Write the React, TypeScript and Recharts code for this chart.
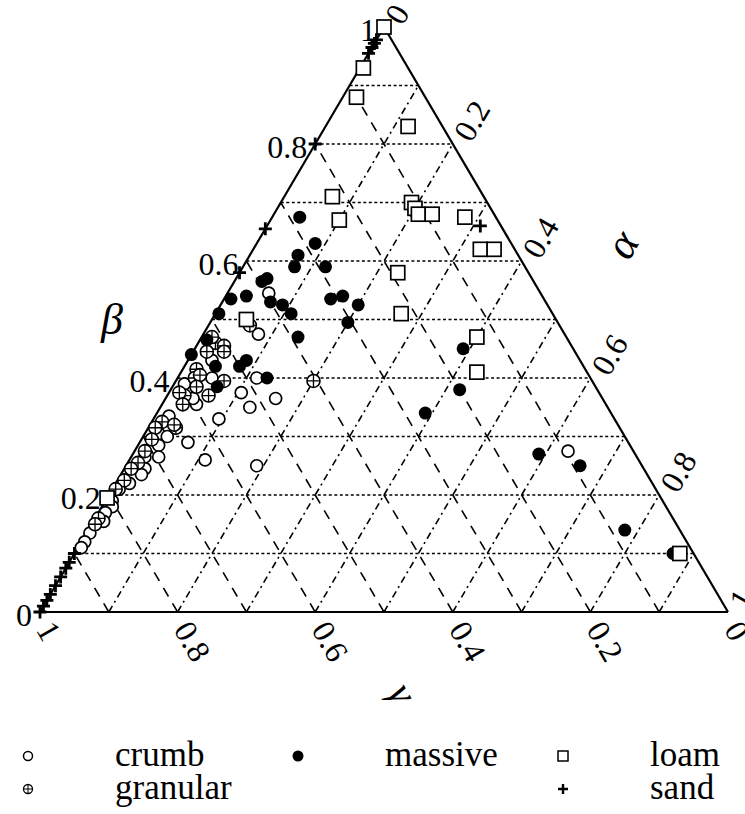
import React from "react";
import { ScatterChart, Scatter, XAxis, YAxis, ReferenceLine } from "recharts";

type Pair = [number, number];

// samples as [alpha, beta]; gamma = 1 - alpha - beta
const crumb: Pair[] = [
  [0.06, 0.545], [0.08, 0.475], [0.115, 0.4], [0.16, 0.365], [0.13, 0.35], [0.105, 0.375],
  [0.095, 0.33], [0.19, 0.25], [0.11, 0.26], [0.07, 0.29], [0.63, 0.275], [0.035, 0.43],
  [0.05, 0.4], [0.015, 0.39], [0.05, 0.355], [0.02, 0.335], [0.02, 0.305], [0.035, 0.3],
  [0.03, 0.285], [0.04, 0.265], [0.02, 0.265], [0.03, 0.245], [0.03, 0.235], [0.02, 0.22],
  [0.01, 0.21], [0.01, 0.19], [0.015, 0.18], [0.01, 0.17], [0.015, 0.155], [0.005, 0.135],
  [0.005, 0.12], [0.005, 0.11], [0.04, 0.365],
];

const granular: Pair[] = [
  [0.06, 0.49], [0.2, 0.395], [0.025, 0.46], [0.04, 0.455], [0.02, 0.445], [0.02, 0.415],
  [0.025, 0.4], [0.03, 0.405], [0.07, 0.395], [0.025, 0.37], [0.06, 0.37], [0.015, 0.375],
  [0.03, 0.355], [0.035, 0.385], [0.015, 0.325], [0.04, 0.315], [0.01, 0.315], [0.015, 0.295],
  [0.015, 0.275], [0.015, 0.255], [0.01, 0.245], [0.01, 0.225], [0.005, 0.21], [0.005, 0.16],
  [0.005, 0.15], [0.015, 0.47], [0.035, 0.32], [0.045, 0.445],
];

const massive: Pair[] = [
  [0.04, 0.675], [0.085, 0.63], [0.07, 0.61], [0.075, 0.59], [0.12, 0.59], [0.045, 0.57],
  [0.04, 0.565], [0.07, 0.53], [0.09, 0.525], [0.11, 0.51], [0.155, 0.535], [0.17, 0.54],
  [0.2, 0.525], [0.2, 0.495], [0.14, 0.47], [0.03, 0.54], [0.01, 0.535], [0.005, 0.51],
  [0.0, 0.44], [0.085, 0.43], [0.08, 0.42], [0.045, 0.42], [0.13, 0.4], [0.065, 0.385],
  [0.01, 0.465], [0.39, 0.45], [0.42, 0.38], [0.39, 0.34], [0.59, 0.27], [0.66, 0.25],
  [0.78, 0.14], [0.87, 0.1],
];

const loam: Pair[] = [
  [0.0, 1.0], [0.005, 0.93], [0.02, 0.88], [0.12, 0.83], [0.07, 0.71], [0.1, 0.67],
  [0.19, 0.7], [0.2, 0.69], [0.21, 0.68], [0.23, 0.68], [0.28, 0.675], [0.33, 0.62],
  [0.35, 0.62], [0.23, 0.58], [0.27, 0.51], [0.4, 0.47], [0.43, 0.41], [0.88, 0.1],
  [0.05, 0.5], [0.0, 0.195],
];

const sand: Pair[] = [
  [0, 0], [0, 0.01], [0, 0.02], [0, 0.03], [0, 0.045], [0, 0.06], [0, 0.075], [0, 0.085],
  [0, 0.1], [0, 0.58], [0, 0.655], [0, 0.8], [0, 0.955], [0, 0.965], [0, 0.972], [0, 0.978],
  [0.31, 0.66],
];

const gridSteps = [0.1, 0.2, 0.3, 0.4, 0.5, 0.6, 0.7, 0.8, 0.9];
const betaTicks = [0, 0.2, 0.4, 0.6, 0.8, 1];
const alphaTicks = [0, 0.2, 0.4, 0.6, 0.8, 1];
const gammaTicks = [1, 0.8, 0.6, 0.4, 0.2, 0];

const W = 745;
const H = 700;
const MARGIN = { top: 27, right: 17, bottom: 88, left: 40 };
const SERIF = { fontFamily: "'Liberation Serif', 'Times New Roman', Times, serif" };

// gamma corner bottom-left, alpha corner bottom-right, beta corner on top
const toXY = ([a, b]: Pair) => ({ x: a + b / 2, y: b });
const fmt = (v: number) => (v === 0 || v === 1 ? String(v) : v.toFixed(1));

const OpenDot = ({ cx, cy }: any) => (
  <circle cx={cx} cy={cy} r={6} fill="#fff" stroke="#000" strokeWidth={1.7} />
);
const SolidDot = ({ cx, cy }: any) => <circle cx={cx} cy={cy} r={6.5} fill="#000" />;
const SquareMark = ({ cx, cy }: any) => (
  <rect x={cx - 7} y={cy - 7} width={14} height={14} fill="#fff" stroke="#000" strokeWidth={1.7} />
);
const CrossDot = ({ cx, cy }: any) => (
  <g>
    <circle cx={cx} cy={cy} r={6.5} fill="#fff" stroke="#000" strokeWidth={1.6} />
    <path d={`M${cx - 6.5} ${cy}H${cx + 6.5}M${cx} ${cy - 6.5}V${cy + 6.5}`} stroke="#000" strokeWidth={1.3} />
  </g>
);
const PlusMark = ({ cx, cy }: any) => (
  <path d={`M${cx - 6.5} ${cy}H${cx + 6.5}M${cx} ${cy - 6.5}V${cy + 6.5}`} stroke="#000" strokeWidth={2.8} />
);

const BetaLabel = ({ cx, cy, payload }: any) => (
  <text x={cx - 8} y={cy + 3} dy="0.35em" textAnchor="end" fontSize={32} style={SERIF}>
    {payload.text}
  </text>
);
const AlphaLabel = ({ cx, cy, payload }: any) => {
  const x = cx + 9;
  const y = cy - 6;
  return (
    <text x={x} y={y} dominantBaseline="central" fontSize={32} style={SERIF} transform={`rotate(-60 ${x} ${y})`}>
      {payload.text}
    </text>
  );
};
const GammaLabel = ({ cx, cy, payload }: any) => {
  const x = cx + 5;
  const y = cy + 12;
  return (
    <text x={x} y={y} dominantBaseline="central" fontSize={32} style={SERIF} transform={`rotate(60 ${x} ${y})`}>
      {payload.text}
    </text>
  );
};

const BetaTitle = ({ cx, cy }: any) => (
  <text x={cx - 100} y={cy} textAnchor="middle" dominantBaseline="central" fontSize={44} fontStyle="italic" style={SERIF}>
    β
  </text>
);
const AlphaTitle = ({ cx, cy }: any) => {
  const x = cx + 66;
  const y = cy - 75;
  return (
    <text x={x} y={y} textAnchor="middle" dominantBaseline="central" fontSize={44} fontStyle="italic" style={SERIF} transform={`rotate(-60 ${x} ${y})`}>
      α
    </text>
  );
};
const GammaTitle = ({ cx, cy }: any) => {
  const x = cx + 19;
  const y = cy + 81;
  return (
    <text x={x} y={y} textAnchor="middle" dominantBaseline="central" fontSize={40} fontStyle="italic" style={SERIF} transform={`rotate(60 ${x} ${y})`}>
      γ
    </text>
  );
};

const betaLabelPts = betaTicks.map((t) => ({ x: t / 2, y: t, text: fmt(t) }));
const alphaLabelPts = alphaTicks.map((t) => ({ x: (1 + t) / 2, y: 1 - t, text: fmt(t) }));
const gammaLabelPts = gammaTicks.map((t) => ({ x: 1 - t, y: 0, text: fmt(t) }));

const edges = [
  [{ x: 0, y: 0 }, { x: 1, y: 0 }],
  [{ x: 0, y: 0 }, { x: 0.5, y: 1 }],
  [{ x: 1, y: 0 }, { x: 0.5, y: 1 }],
];

const Legend = () => {
  const row1 = 66;
  const row2 = 99;
  const txt = { fontSize: 35, fill: "#000", style: SERIF };
  return (
    <svg width={W} height={114} style={{ position: "absolute", left: 0, top: 700 }}>
      <circle cx={28} cy={row1 - 10} r={4.5} fill="#fff" stroke="#000" strokeWidth={1.5} />
      <text x={115} y={row1} {...txt}>crumb</text>
      <circle cx={298} cy={row1 - 10} r={5.5} fill="#000" />
      <text x={385} y={row1} {...txt}>massive</text>
      <rect x={558} y={row1 - 15} width={10} height={10} fill="#fff" stroke="#000" strokeWidth={1.5} />
      <text x={650} y={row1} {...txt}>loam</text>
      <circle cx={28} cy={row2 - 10} r={4.5} fill="#fff" stroke="#000" strokeWidth={1.3} />
      <path d={`M23.5 ${row2 - 10}H32.5M28 ${row2 - 14.5}V${row2 - 5.5}`} stroke="#000" strokeWidth={1} />
      <text x={115} y={row2} {...txt}>granular</text>
      <path d={`M558 ${row2 - 10}H568M563 ${row2 - 15}V${row2 - 5}`} stroke="#000" strokeWidth={2.4} />
      <text x={650} y={row2} {...txt}>sand</text>
    </svg>
  );
};

export default function App() {
  return (
    <div style={{ position: "fixed", left: 0, top: 0, width: W, height: 814, background: "#fff", ...SERIF }}>
      <ScatterChart width={W} height={H} margin={MARGIN} style={{ overflow: "visible" }}>
        <XAxis type="number" dataKey="x" domain={[0, 1]} hide />
        <YAxis type="number" dataKey="y" domain={[0, 1]} hide />

        {gridSteps.map((t) => (
          <ReferenceLine
            key={`b${t}`}
            segment={[{ x: t / 2, y: t }, { x: 1 - t / 2, y: t }]}
            stroke="#000"
            strokeWidth={1.6}
            strokeDasharray="3 2.5"
          />
        ))}
        {gridSteps.map((t) => (
          <ReferenceLine
            key={`a${t}`}
            segment={[{ x: t, y: 0 }, { x: (1 + t) / 2, y: 1 - t }]}
            stroke="#000"
            strokeWidth={1.6}
            strokeDasharray="7 4 2 4"
          />
        ))}
        {gridSteps.map((t) => (
          <ReferenceLine
            key={`g${t}`}
            segment={[{ x: 1 - t, y: 0 }, { x: (1 - t) / 2, y: 1 - t }]}
            stroke="#000"
            strokeWidth={1.6}
            strokeDasharray="10 8"
          />
        ))}
        {edges.map((seg, i) => (
          <ReferenceLine key={`e${i}`} segment={seg} stroke="#000" strokeWidth={2.2} />
        ))}

        <Scatter data={betaLabelPts} shape={BetaLabel} isAnimationActive={false} legendType="none" />
        <Scatter data={alphaLabelPts} shape={AlphaLabel} isAnimationActive={false} legendType="none" />
        <Scatter data={gammaLabelPts} shape={GammaLabel} isAnimationActive={false} legendType="none" />
        <Scatter data={[{ x: 0.25, y: 0.5 }]} shape={BetaTitle} isAnimationActive={false} legendType="none" />
        <Scatter data={[{ x: 0.75, y: 0.5 }]} shape={AlphaTitle} isAnimationActive={false} legendType="none" />
        <Scatter data={[{ x: 0.5, y: 0 }]} shape={GammaTitle} isAnimationActive={false} legendType="none" />

        <Scatter name="crumb" data={crumb.map(toXY)} shape={OpenDot} isAnimationActive={false} />
        <Scatter name="granular" data={granular.map(toXY)} shape={CrossDot} isAnimationActive={false} />
        <Scatter name="massive" data={massive.map(toXY)} shape={SolidDot} isAnimationActive={false} />
        <Scatter name="loam" data={loam.map(toXY)} shape={SquareMark} isAnimationActive={false} />
        <Scatter name="sand" data={sand.map(toXY)} shape={PlusMark} isAnimationActive={false} />
      </ScatterChart>
      <Legend />
    </div>
  );
}
